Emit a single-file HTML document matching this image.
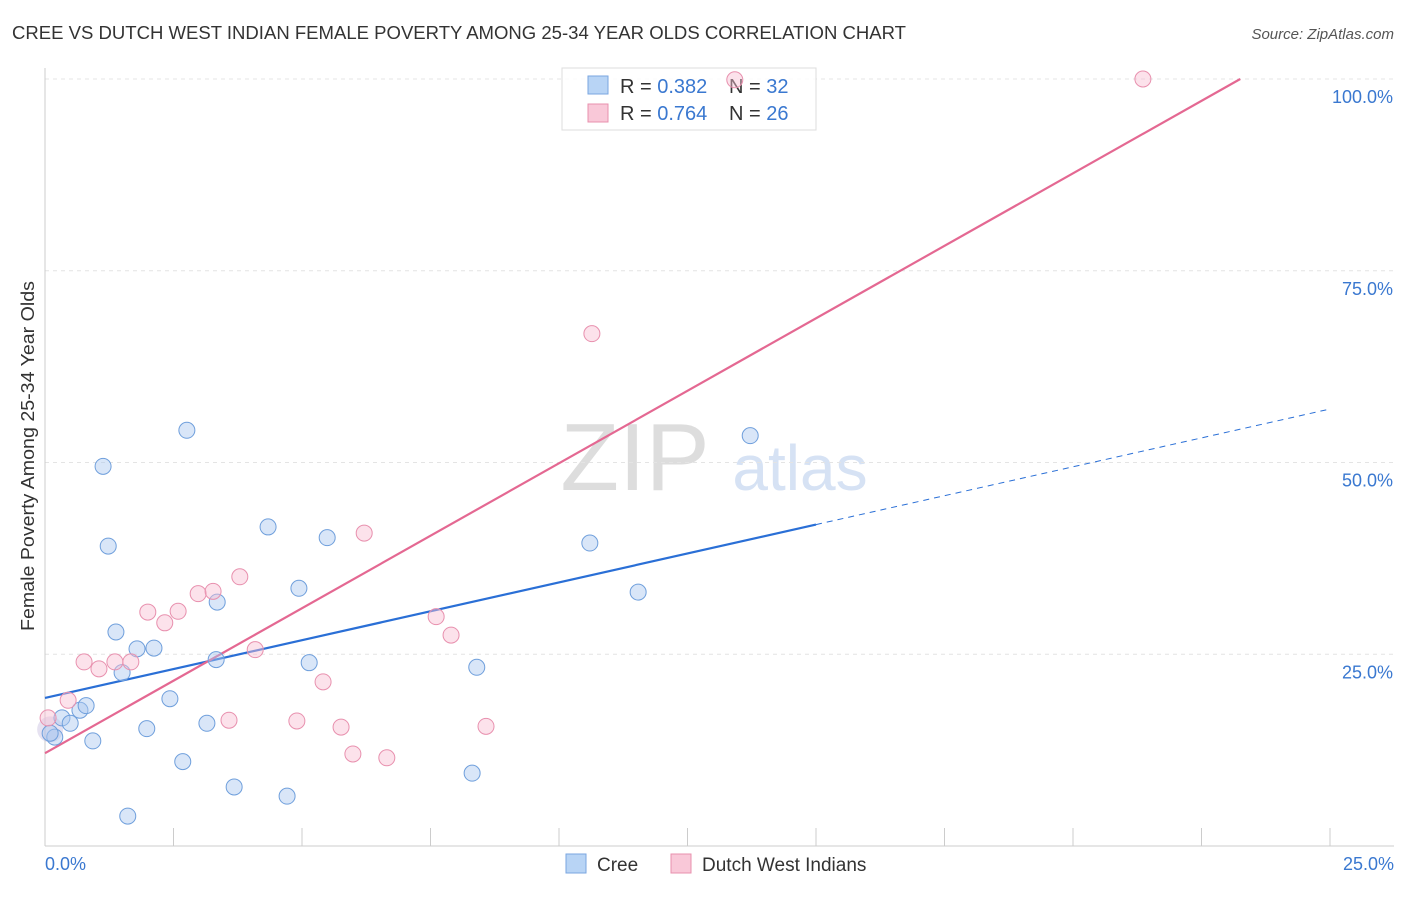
<!DOCTYPE html>
<html><head><meta charset="utf-8"><style>
body{margin:0;background:#fff;font-family:"Liberation Sans",sans-serif;}
svg text{font-family:"Liberation Sans",sans-serif;}
</style></head><body>
<svg id="chart" width="1406" height="892">
<text x="12" y="39" font-size="18" fill="#333" textLength="894" lengthAdjust="spacingAndGlyphs">CREE VS DUTCH WEST INDIAN FEMALE POVERTY AMONG 25-34 YEAR OLDS CORRELATION CHART</text>
<text x="1394" y="39" font-size="15" fill="#555" font-style="italic" text-anchor="end">Source: ZipAtlas.com</text>
<text x="0" y="0" font-size="18" fill="#333" text-anchor="middle" textLength="350" lengthAdjust="spacingAndGlyphs" transform="translate(34,456) rotate(-90)">Female Poverty Among 25-34 Year Olds</text>
<text x="635" y="490" font-size="96" fill="#ddd" font-family="Liberation Serif" text-anchor="middle">ZIP</text>
<text x="800" y="490" font-size="64" fill="#d6e2f4" text-anchor="middle">atlas</text>
<g id="grid"></g><g id="lines"></g>
<g>
<rect x="562" y="68" width="254" height="62" fill="#fff" fill-opacity="0.85" stroke="#ddd"/>
<rect x="588" y="76" width="20" height="18" fill="#b8d4f5" stroke="#7aa6e0"/>
<text x="620" y="93" font-size="20" fill="#333">R = <tspan fill="#3a78d0">0.382</tspan></text>
<text x="729" y="93" font-size="20" fill="#333">N = <tspan fill="#3a78d0">32</tspan></text>
<rect x="588" y="104" width="20" height="18" fill="#f9c8d8" stroke="#e890ae"/>
<text x="620" y="120" font-size="20" fill="#333">R = <tspan fill="#3a78d0">0.764</tspan></text>
<text x="729" y="120" font-size="20" fill="#333">N = <tspan fill="#3a78d0">26</tspan></text>
</g>
<g id="pts"></g>
<g>
<rect x="566" y="854" width="20" height="19" fill="#b8d4f5" stroke="#7aa6e0"/>
<text x="597" y="871" font-size="19" fill="#333">Cree</text>
<rect x="671" y="854" width="20" height="19" fill="#f9c8d8" stroke="#e890ae"/>
<text x="702" y="871" font-size="19" fill="#333">Dutch West Indians</text>
</g>
<text x="45" y="870" font-size="18" fill="#3a78d0">0.0%</text>
<text x="1394" y="870" font-size="18" fill="#3a78d0" text-anchor="end">25.0%</text>
</svg>
<script>
const creeX=[0.19,0.33,0.49,0.68,0.80,0.93,1.13,1.23,1.38,1.50,1.79,1.98,2.12,2.43,2.68,2.76,3.15,3.33,3.35,3.68,4.34,4.71,4.94,5.14,5.49,1.61,8.31,8.40,10.60,11.54,13.72,0.10];
const creeY=[14.2,16.7,16.0,17.7,18.3,13.7,49.5,39.1,27.9,22.6,25.7,15.3,25.8,19.2,11.0,54.2,16.0,24.3,31.8,7.7,41.6,6.5,33.6,23.9,40.2,3.9,9.5,23.3,39.5,33.1,53.5,14.7];
const dwiX=[0.06,0.45,0.76,1.05,1.36,1.67,2.00,2.33,2.59,2.98,3.27,3.58,3.79,4.09,4.90,5.41,5.76,5.99,6.21,6.65,7.61,7.90,8.58,10.64,13.42,21.36];
const dwiY=[16.7,19.0,24.0,23.1,24.0,24.0,30.5,29.1,30.6,32.9,33.2,16.4,35.1,25.6,16.3,21.4,15.5,12.0,40.8,11.5,29.9,27.5,15.6,66.8,99.9,100.0];
const yTicks=[25,50,75,100];
const xTicks=[0,2.5,5,7.5,10,12.5,15,17.5,20,22.5,25];
const creeFit=[19.3,1.507];
const dwiFit=[12.1,3.78];
const NS='http://www.w3.org/2000/svg';
const sx=v=>45+v/25*1285, sy=v=>846-v/100*767;
function mk(p,t,a){const e=document.createElementNS(NS,t);for(const k in a)e.setAttribute(k,a[k]);document.getElementById(p).appendChild(e);return e;}
yTicks.forEach(t=>{
 const l=mk('grid','line',{x1:45,x2:1394,y1:sy(t),y2:sy(t),stroke:'#e4e4e4','stroke-dasharray':'4,4'});
 
 
 const tx=mk('grid','text',{x:1393,y:sy(t)+24,'font-size':18,fill:'#3a78d0','text-anchor':'end'});tx.textContent=t.toFixed(1)+'%';
 
 
});
mk('grid','line',{x1:45,x2:45,y1:68,y2:846,stroke:'#ccc'});
mk('grid','line',{x1:45,x2:1394,y1:846,y2:846,stroke:'#ccc'});
xTicks.forEach(t=>{const l=mk('grid','line',{x1:sx(t),x2:sx(t),y1:828,y2:846,stroke:'#ccc'});
 
 });
const cl=mk('lines','line',{x1:sx(0),y1:sy(creeFit[0]),x2:sx(15),y2:sy(creeFit[0]+creeFit[1]*15),stroke:'#2a6fd6','stroke-width':2.2});


const cd=mk('lines','line',{x1:sx(15),y1:sy(creeFit[0]+creeFit[1]*15),x2:sx(25),y2:sy(creeFit[0]+creeFit[1]*25),stroke:'#2a6fd6','stroke-width':1,'stroke-dasharray':'6,5'});


const xe=(100-dwiFit[0])/dwiFit[1];
const dl=mk('lines','line',{x1:sx(0),y1:sy(dwiFit[0]),x2:sx(xe),y2:sy(100),stroke:'#e46892','stroke-width':2.2});


const big=mk('pts','circle',{cx:sx(0.1),cy:sy(15.2),r:13,fill:'rgba(200,190,225,0.45)',stroke:'none'});


creeX.forEach((x,i)=>{const c=mk('pts','circle',{cx:sx(x),cy:sy(creeY[i]),r:8,fill:'rgba(170,200,240,0.45)',stroke:'#6f9fdc','stroke-width':1});
 
 });
dwiX.forEach((x,i)=>{const c=mk('pts','circle',{cx:sx(x),cy:sy(dwiY[i]),r:8,fill:'rgba(248,190,210,0.45)',stroke:'#e890ae','stroke-width':1});
 
 });
</script>
</body></html>
